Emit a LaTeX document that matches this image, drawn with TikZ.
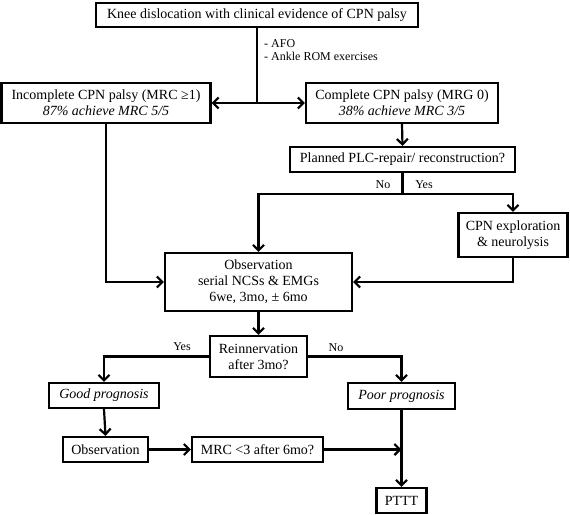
\documentclass[tikz,border=0pt]{standalone}
\usepackage{fontspec}
\setmainfont{Liberation Serif}
\usetikzlibrary{arrows.meta}
\begin{document}
\begin{tikzpicture}[x=1pt,y=-1pt,
  box/.style={draw,line width=2.2pt,inner sep=0pt,align=center,
    font=\fontsize{14}{16}\selectfont},
  tip/.tip={Straight Barb[length=5.5pt,width=11pt,line width=2.2pt]},
  arr/.style={line width=2.2pt,-tip},
  arrb/.style={line width=2.2pt,tip-tip},
  ln/.style={line width=2.2pt},
  lab/.style={font=\fontsize{12}{13.5}\selectfont,inner sep=0pt}]
\useasboundingbox (0,0) rectangle (570,514);
\node[box,minimum width=322pt,minimum height=24pt] (top) at (257,15) {Knee dislocation with clinical evidence of CPN palsy};
\node[box,minimum width=209pt,minimum height=40pt] (inc) at (106,103) {Incomplete CPN palsy (MRC ≥1)\\\textit{87\% achieve MRC 5/5}};
\node[box,minimum width=192pt,minimum height=40pt] (comp) at (402,103) {Complete CPN palsy (MRG 0)\\\textit{38\% achieve MRC 3/5}};
\node[box,minimum width=225pt,minimum height=25pt] (plan) at (402.5,159.5) {Planned PLC-repair/ reconstruction?};
\node[box,minimum width=109pt,minimum height=44pt] (cpn) at (513,235) {CPN exploration\\\& neurolysis};
\node[box,minimum width=187pt,minimum height=58pt] (obs) at (258.5,282) {Observation\\serial NCSs \& EMGs\\6we, 3mo, ± 6mo};
\node[box,minimum width=97pt,minimum height=41pt] (rein) at (258.5,356.5) {Reinnervation\\after 3mo?};
\node[box,minimum width=110pt,minimum height=25pt] (good) at (104,395.5) {\textit{Good prognosis}};
\node[box,minimum width=107pt,minimum height=26pt] (poor) at (401.5,396) {\textit{Poor prognosis}};
\node[box,minimum width=85pt,minimum height=25pt] (obs2) at (105.5,449.5) {Observation};
\node[box,minimum width=131pt,minimum height=25pt] (mrc) at (257.5,449.5) {MRC <3 after 6mo?};
\node[box,minimum width=50pt,minimum height=25pt] (pttt) at (401.5,500.5) {PTTT};
% labels
\node[lab,anchor=north west,align=left] (afo) at (264,39) {- AFO\\- Ankle ROM exercises};
\node[lab] (no1) at (383,185) {No};
\node[lab] (yes1) at (424,185) {Yes};
\node[lab] (yes2) at (182,347) {Yes};
\node[lab] (no2) at (336,348) {No};
% connectors
\coordinate (j1) at (top.south |- inc.east);
\draw[ln] (top.south) -- (j1);
\draw[arrb] (inc.east) -- (comp.west);
\draw[arr] (comp.south) -- (plan.north);
\coordinate (j2) at (402.5,194);
\draw[ln] (plan.south) -- (j2);
\draw[arr] (j2) -| (obs.north);
\draw[arr] (j2) -| (cpn.north);
\draw[arr] (cpn.south) |- (obs.east);
\draw[arr] (inc.south) |- (obs.west);
\draw[arr] (obs.south) -- (rein.north);
\draw[arr] (rein.west) -| (good.north);
\draw[arr] (rein.east) -| (poor.north);
\draw[arr] (good.south) -- (obs2.north);
\draw[arr] (obs2.east) -- (mrc.west);
\coordinate (j3) at (mrc.east -| poor.south);
\draw[arr] (mrc.east) -- (j3);
\draw[arr] (poor.south) -- (pttt.north);
\end{tikzpicture}
\end{document}
